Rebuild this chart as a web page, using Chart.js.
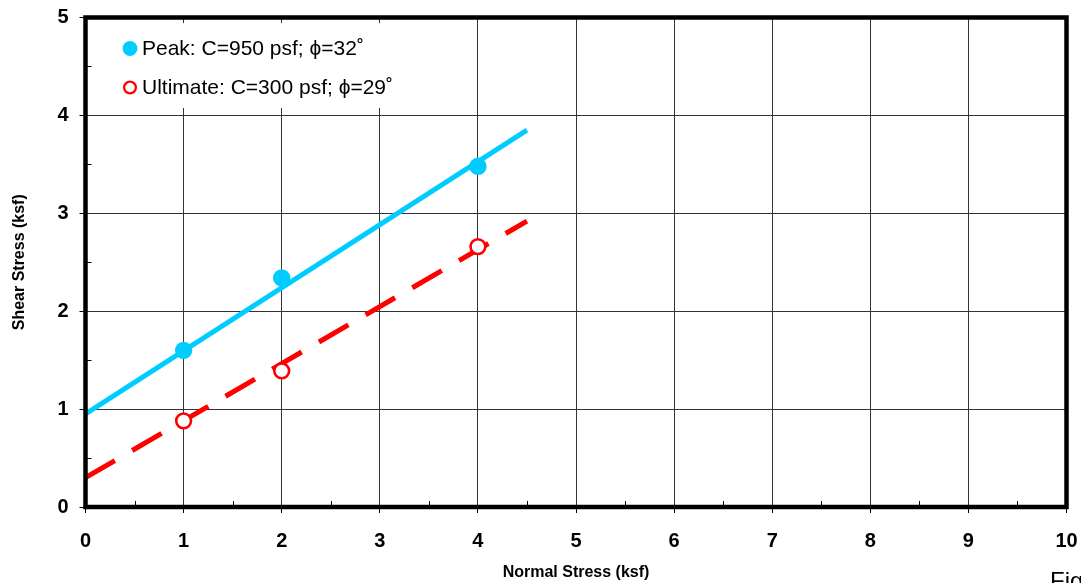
<!DOCTYPE html>
<html><head><meta charset="utf-8">
<script src="https://cdn.jsdelivr.net/npm/chart.js@4/dist/chart.umd.min.js"></script>
<style>
html,body{margin:0;padding:0;overflow:hidden;background:#fff;width:1081px;height:583px}
#wrap{position:absolute;left:0;top:0;width:1081px;height:583px}
#fig{position:absolute;left:1050px;top:569px;font:24px "Liberation Sans",Arial,sans-serif;line-height:24px;color:#000;white-space:nowrap}
</style></head><body>
<div id="wrap"><canvas id="c" width="1081" height="583"></canvas></div>
<div id="fig">Figure</div>
<script>
// ---- data ----
const peakX = [1, 2, 4];
const peakY = [1.60, 2.34, 3.48];
const ultX = [1, 2, 4];
const ultY = [0.88, 1.39, 2.66];
const peakFitX = [0, 4.5];
const peakFitY = [0.95, 3.85];
const ultFitX = [0, 4.5];
const ultFitY = [0.30, 2.92];
const seriesLabels = ['Peak: C=950 psf; \u03D5=32\u02DA', 'Ultimate: C=300 psf; \u03D5=29\u02DA'];
const xTitle = 'Normal Stress (ksf)';
const yTitle = 'Shear Stress (ksf)';
const xMin = 0, xMax = 10, yMin = 0, yMax = 5;

const pts = (xs, ys) => xs.map((x, i) => ({x: x, y: ys[i]}));
const CYAN = '#00CCFF', RED = '#FF0000';
const FONT = '"Liberation Sans", Arial, sans-serif';

const frame = {
  id: 'frame',
  afterDatasetsDraw(chart) {
    const ctx = chart.ctx, a = chart.chartArea;
    const xs = chart.scales.x, ys = chart.scales.y;
    ctx.save();
    // legend box
    ctx.fillStyle = '#fff';
    ctx.fillRect(88, 23, 294, 85);
    const rows = [{y: 48.5, ds: chart.data.datasets[2]}, {y: 87.5, ds: chart.data.datasets[3]}];
    rows.forEach((r, i) => {
      ctx.beginPath();
      ctx.arc(130, r.y, i === 0 ? 7.4 : 5.9, 0, Math.PI * 2);
      ctx.fillStyle = r.ds.pointBackgroundColor;
      ctx.fill();
      if (i === 1) { ctx.lineWidth = 2.3; ctx.strokeStyle = r.ds.pointBorderColor; ctx.stroke(); }
      ctx.fillStyle = '#000';
      ctx.font = '21px ' + FONT;
      ctx.textBaseline = 'middle';
      ctx.textAlign = 'left';
      ctx.fillText(r.ds.label, 142, r.y + 1);
    });
    // minor inner ticks
    ctx.strokeStyle = '#000';
    ctx.lineWidth = 1;
    for (let v = xMin + 0.5; v < xMax; v += 1) {
      const px = Math.round(xs.getPixelForValue(v)) + 0.5;
      ctx.beginPath(); ctx.moveTo(px, a.bottom); ctx.lineTo(px, a.bottom - 6); ctx.stroke();
    }
    for (let v = yMin + 0.5; v < yMax; v += 1) {
      const py = Math.round(ys.getPixelForValue(v)) + 0.5;
      ctx.beginPath(); ctx.moveTo(a.left, py); ctx.lineTo(a.left + 6, py); ctx.stroke();
    }
    // thick frame
    ctx.lineWidth = 4.5;
    ctx.strokeStyle = '#000';
    ctx.strokeRect(a.left, a.top, a.right - a.left, a.bottom - a.top);
    ctx.restore();
  }
};

new Chart(document.getElementById('c'), {
  type: 'scatter',
  data: {
    datasets: [
      {label: 'Peak fit', data: pts(peakFitX, peakFitY), showLine: true, borderColor: CYAN, borderWidth: 5, pointRadius: 0, fill: false, order: 4},
      {label: 'Ultimate fit', data: pts(ultFitX, ultFitY), showLine: true, borderColor: RED, borderWidth: 5, borderDash: [34, 20], borderCapStyle: 'butt', pointRadius: 0, fill: false, order: 3},
      {label: seriesLabels[0], data: pts(peakX, peakY), pointRadius: 8.7, pointBackgroundColor: CYAN, pointBorderColor: CYAN, pointBorderWidth: 0, order: 2},
      {label: seriesLabels[1], data: pts(ultX, ultY), pointRadius: 7.4, pointBackgroundColor: '#fff', pointBorderColor: RED, pointBorderWidth: 2.6, order: 1}
    ]
  },
  options: {
    responsive: false,
    animation: false,
    devicePixelRatio: 1,
    layout: {padding: {left: 0, top: 17.5, right: 14.5, bottom: 0}},
    plugins: {legend: {display: false}, tooltip: {enabled: false}},
    scales: {
      x: {
        type: 'linear', min: xMin, max: xMax,
        afterFit(s) { s.height = 76; s.paddingLeft = 0; s.paddingRight = 0; },
        ticks: {stepSize: 1, color: '#000', font: {family: FONT, size: 20, weight: 'bold'}, padding: 16},
        grid: {color: '#333', lineWidth: 1, tickLength: 6, tickColor: '#000'},
        border: {display: false},
        title: {display: true, text: xTitle, color: '#000', font: {family: FONT, size: 16, weight: 'bold'}, padding: {top: 0, bottom: 1}}
      },
      y: {
        type: 'linear', min: yMin, max: yMax,
        afterFit(s) { s.width = 85.5; s.paddingTop = 0; s.paddingBottom = 0; },
        ticks: {stepSize: 1, color: '#000', font: {family: FONT, size: 20, weight: 'bold'}, padding: 11},
        grid: {color: '#333', lineWidth: 1, tickLength: 6, tickColor: '#000'},
        border: {display: false},
        title: {display: true, text: yTitle, color: '#000', font: {family: FONT, size: 16, weight: 'bold'}, padding: {top: 10, bottom: 0}}
      }
    }
  },
  plugins: [frame]
});
</script>
</body></html>
